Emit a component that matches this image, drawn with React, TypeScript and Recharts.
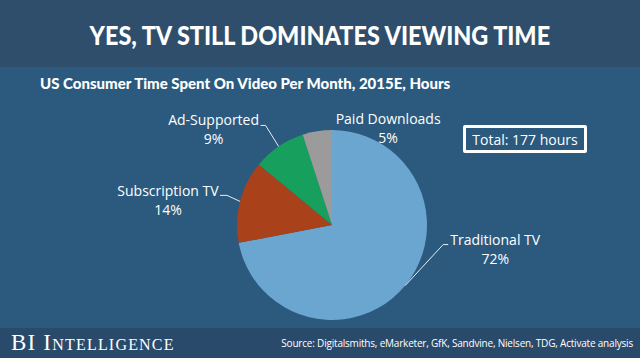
import { PieChart, Pie, Cell } from 'recharts'

const categories = ['Traditional TV', 'Subscription TV', 'Ad-Supported', 'Paid Downloads']
const shares = [72, 14, 9, 5]
const colors = ['#6aa6cf', '#a9421b', '#17a05d', '#9b9b9b']

const title = 'YES, TV STILL DOMINATES VIEWING TIME'
const subtitle = 'US Consumer Time Spent On Video Per Month, 2015E, Hours'
const totalNote = 'Total: 177 hours'
const source = 'Source: Digitalsmiths, eMarketer, GfK, Sandvine, Nielsen, TDG, Activate analysis'

const data = categories.map((name, i) => ({ name, value: shares[i] }))

// leader line elbow offset from slice edge, horizontal run, then text offset
const labelLayout: Record<string, { ex: number; ey: number; hx: number; tx: number; ty: number; line: boolean }> = {
  'Traditional TV': { ex: 38, ey: -41, hx: 5, tx: 47, ty: -5, line: true },
  'Subscription TV': { ex: -13, ey: -6, hx: -7, tx: -52, ty: -5, line: true },
  'Ad-Supported': { ex: -13, ey: -21, hx: -5, tx: -47, ty: -6, line: true },
  'Paid Downloads': { ex: 0, ey: 0, hx: 0, tx: 71, ty: -13, line: false },
}

const RAD = Math.PI / 180

function renderLabel(props: any) {
  const { cx, cy, midAngle, outerRadius, name, value } = props
  const lay = labelLayout[name]
  const x0 = cx + outerRadius * Math.cos(-midAngle * RAD)
  const y0 = cy + outerRadius * Math.sin(-midAngle * RAD)
  const x1 = x0 + lay.ex
  const y1 = y0 + lay.ey
  const x2 = x1 + lay.hx
  const tx = x2 + lay.tx
  const ty = y1 + lay.ty
  return (
    <g key={name}>
      {lay.line && (
        <polyline
          points={`${x0},${y0} ${x1},${y1} ${x2},${y1}`}
          fill="none"
          stroke="#e6edf3"
          strokeWidth={1}
        />
      )}
      <text
        x={tx}
        y={ty}
        textAnchor="middle"
        dominantBaseline="central"
        fill="#ffffff"
        fontSize={14}
        fontFamily="'Open Sans', sans-serif"
      >
        {name}
      </text>
      <text
        x={tx}
        y={ty + 19}
        textAnchor="middle"
        dominantBaseline="central"
        fill="#ffffff"
        fontSize={14}
        fontFamily="'Open Sans', sans-serif"
      >
        {value}%
      </text>
    </g>
  )
}

export default function App() {
  return (
    <div
      style={{
        position: 'absolute',
        left: 0,
        top: 0,
        width: 640,
        height: 358,
        background: '#2b5a7e',
        overflow: 'hidden',
        fontFamily: "'Open Sans', sans-serif",
        color: '#fff',
      }}
    >
      <div
        style={{
          position: 'absolute',
          left: 0,
          top: 0,
          width: 640,
          height: 67,
          background: '#2f4e6c',
          display: 'flex',
          alignItems: 'center',
          justifyContent: 'center',
        }}
      >
        <span
          style={{
            display: 'inline-block',
            fontFamily: 'Lato, sans-serif',
            fontWeight: 900,
            fontSize: 26,
            whiteSpace: 'nowrap',
            transform: 'scaleX(0.9)',
            marginTop: 2,
          }}
        >
          {title}
        </span>
      </div>
      <div
        style={{
          position: 'absolute',
          left: 40,
          top: 73,
          fontFamily: 'Lato, sans-serif',
          fontWeight: 900,
          fontSize: 15,
          lineHeight: '20px',
          whiteSpace: 'nowrap',
        }}
      >
        {subtitle}
      </div>
      <div style={{ position: 'absolute', left: 0, top: 0 }}>
        <PieChart width={640} height={358} margin={{ top: 0, right: 0, bottom: 0, left: 0 }}>
          <Pie
            data={data}
            dataKey="value"
            nameKey="name"
            cx={332}
            cy={225}
            outerRadius={95}
            startAngle={90}
            endAngle={-270}
            stroke="none"
            label={renderLabel}
            labelLine={false}
            isAnimationActive={false}
          >
            {data.map((entry, index) => (
              <Cell key={`cell-${index}`} fill={colors[index]} />
            ))}
          </Pie>
        </PieChart>
      </div>
      <div
        style={{
          position: 'absolute',
          left: 463,
          top: 125,
          width: 124,
          height: 28,
          boxSizing: 'border-box',
          border: '3px solid #fff',
          borderRadius: 2,
          display: 'flex',
          alignItems: 'center',
          justifyContent: 'center',
          fontSize: 14,
        }}
      >
        {totalNote}
      </div>
      <div
        style={{
          position: 'absolute',
          left: 0,
          top: 328,
          width: 640,
          height: 30,
          background: '#294a6a',
        }}
      >
        <div
          style={{
            position: 'absolute',
            left: 11,
            top: 0,
            height: 30,
            lineHeight: '30px',
            fontFamily: "'Liberation Serif', serif",
            fontVariant: 'small-caps',
            fontSize: 23,
            letterSpacing: 1.2,
          }}
        >
          BI Intelligence
        </div>
        <div
          style={{
            position: 'absolute',
            right: 7,
            top: 0,
            height: 30,
            lineHeight: '30px',
            fontSize: 10,
            letterSpacing: -0.2,
            whiteSpace: 'nowrap',
          }}
        >
          {source}
        </div>
      </div>
    </div>
  )
}
